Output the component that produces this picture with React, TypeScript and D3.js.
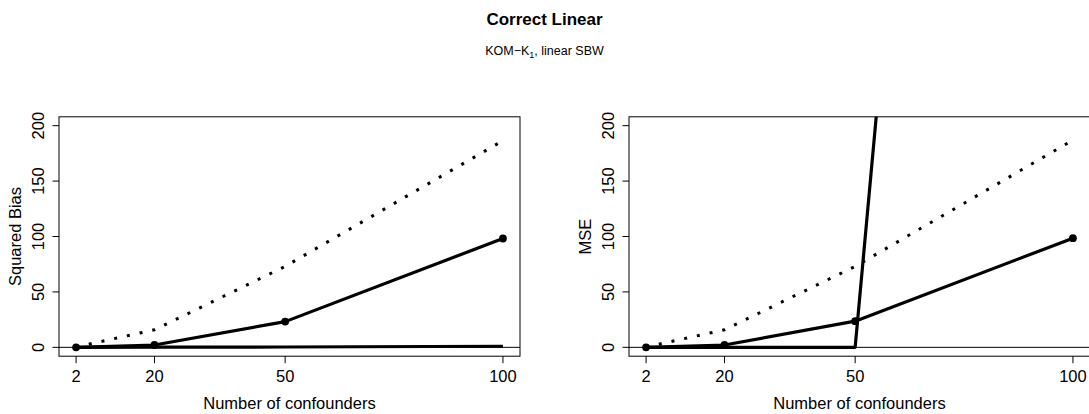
import React from 'react';
import * as d3 from 'd3';

// number of confounders (x positions of the simulation settings)
const confounders = [2, 20, 50, 100];

// left panel: squared bias
const biasReference = [0.3, 15.8, 73, 186.5];
const biasKom = [0, 2.1, 23.2, 98.2];
const biasSbw = [0, 0.1, 0.3, 1.0];

// right panel: MSE
const mseReference = [0.3, 15.8, 73, 187];
const mseKom = [0, 2.1, 23.6, 98.5];
const mseSbw = [0, 0, 0, 2150];

const yTicks = [0, 50, 100, 150, 200];
const xTicks = confounders;

const W = 1089;
const H = 414;
const FONT = '"Liberation Sans", Arial, Helvetica, sans-serif';
const FS = 16.5;

interface PanelProps {
  id: string;
  left: number;
  right: number;
  yLabel: string;
  reference: number[];
  kom: number[];
  sbw: number[];
}

const TOP = 116.8;
const BOTTOM = 356.2;

const Panel: React.FC<PanelProps> = ({ id, left, right, yLabel, reference, kom, sbw }) => {
  // R style 4% axis expansion
  const x = d3.scaleLinear().domain([2 - 98 * 0.04, 100 + 98 * 0.04]).range([left, right]);
  const y = d3.scaleLinear().domain([-8, 208]).range([BOTTOM, TOP]);

  const line = d3
    .line<number>()
    .x((_, i) => x(confounders[i]))
    .y(d => y(d));

  const clipId = `clip-${id}`;

  return (
    <g>
      <defs>
        <clipPath id={clipId}>
          <rect x={left} y={TOP} width={right - left} height={BOTTOM - TOP} />
        </clipPath>
      </defs>

      <g clipPath={`url(#${clipId})`}>
        <line x1={left} x2={right} y1={y(0)} y2={y(0)} stroke="#000" strokeWidth={1} />
        <path
          d={line(reference) || ''}
          fill="none"
          stroke="#000"
          strokeWidth={3}
          strokeDasharray="3 10"
        />
        <path d={line(sbw) || ''} fill="none" stroke="#000" strokeWidth={3.2} strokeLinejoin="round" />
        <path d={line(kom) || ''} fill="none" stroke="#000" strokeWidth={3.2} strokeLinejoin="round" />
        {kom.map((v, i) => (
          <circle key={i} cx={x(confounders[i])} cy={y(v)} r={3.9} fill="#000" />
        ))}
      </g>

      <rect x={left} y={TOP} width={right - left} height={BOTTOM - TOP} fill="none" stroke="#000" strokeWidth={1} />

      {/* y axis */}
      {yTicks.map(t => (
        <g key={t}>
          <line x1={left - 6.5} x2={left} y1={y(t)} y2={y(t)} stroke="#000" strokeWidth={1} />
          <text
            x={left - 15}
            y={y(t)}
            transform={`rotate(-90, ${left - 15}, ${y(t)})`}
            textAnchor="middle"
            fontFamily={FONT}
            fontSize={FS}
            fill="#000"
          >
            {t}
          </text>
        </g>
      ))}
      <text
        x={left - 38}
        y={(TOP + BOTTOM) / 2}
        transform={`rotate(-90, ${left - 38}, ${(TOP + BOTTOM) / 2})`}
        textAnchor="middle"
        fontFamily={FONT}
        fontSize={FS}
        fill="#000"
      >
        {yLabel}
      </text>

      {/* x axis */}
      {xTicks.map(t => (
        <g key={t}>
          <line x1={x(t)} x2={x(t)} y1={BOTTOM} y2={BOTTOM + 7} stroke="#000" strokeWidth={1} />
          <text x={x(t)} y={381.7} textAnchor="middle" fontFamily={FONT} fontSize={FS} fill="#000">
            {t}
          </text>
        </g>
      ))}
      <text x={(left + right) / 2} y={408.5} textAnchor="middle" fontFamily={FONT} fontSize={FS} fill="#000">
        Number of confounders
      </text>
    </g>
  );
};

export default function App() {
  return (
    <svg
      width={W}
      height={H}
      viewBox={`0 0 ${W} ${H}`}
      style={{ position: 'absolute', left: 0, top: 0, background: '#fff' }}
    >
      <rect width={W} height={H} fill="#fff" />
      <text x={W / 2} y={25} textAnchor="middle" fontFamily={FONT} fontSize={17} fontWeight="bold" fill="#000">
        Correct Linear
      </text>
      <text x={W / 2} y={55} textAnchor="middle" fontFamily={FONT} fontSize={12.5} fill="#000">
        KOM−K<tspan fontSize={9} dy={3}>1</tspan>
        <tspan dy={-3}>, linear SBW</tspan>
      </text>

      <Panel id="bias" left={59} right={520} yLabel="Squared Bias" reference={biasReference} kom={biasKom} sbw={biasSbw} />
      <Panel id="mse" left={629} right={1090} yLabel="MSE" reference={mseReference} kom={mseKom} sbw={mseSbw} />
    </svg>
  );
}
